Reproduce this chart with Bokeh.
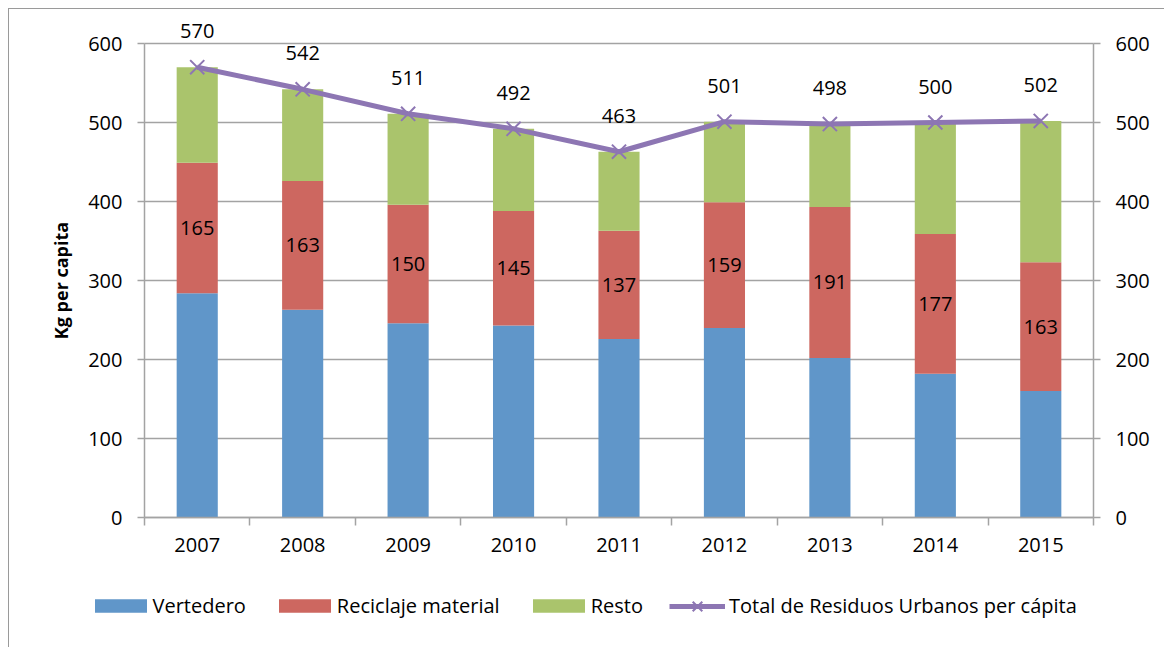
from bokeh.plotting import figure
from bokeh.models import (Range1d, LinearAxis, FixedTicker, ColumnDataSource,
                          Legend, LegendItem)
from bokeh.core.properties import value
from bokeh.embed import file_html
from bokeh.resources import INLINE

# ---- data ----
years = ["2007", "2008", "2009", "2010", "2011", "2012", "2013", "2014", "2015"]
vertedero = [284, 263, 246, 243, 226, 240, 202, 182, 160]
reciclaje = [165, 163, 150, 145, 137, 159, 191, 177, 163]
total = [570, 542, 511, 492, 463, 501, 498, 500, 502]
resto = [t - v - r for t, v, r in zip(total, vertedero, reciclaje)]
y_ticks = [0, 100, 200, 300, 400, 500, 600]

FONT = "Open Sans"
GRID = "#A3A3A3"
C_BLUE = "#6096C9"
C_RED = "#CD6760"
C_GREEN = "#AAC46C"
C_PURPLE = "#8D76B3"

n = len(years)
xs = [i + 0.5 for i in range(n)]
src = ColumnDataSource(dict(
    x=xs, year=years, vertedero=vertedero, reciclaje=reciclaje, resto=resto,
    total=total,
    rec_mid=[v + r / 2 for v, r in zip(vertedero, reciclaje)],
    rec_lbl=[str(r) for r in reciclaje],
    tot_lbl=[str(t) for t in total],
))

# The frame covers the whole canvas; axes are fixed at the data edges (0..9, 0..600)
W, H = 1156, 639
sx = 949 / n          # px per category
sy = 474 / 600        # px per kg
x0 = -135 / sx
x1 = x0 + W / sx
y1 = 508 / sy
y0 = y1 - H / sy

p = figure(width=W, height=H, output_backend="svg", toolbar_location=None,
           x_range=Range1d(x0, x1), y_range=Range1d(y0, y1),
           min_border=0, min_border_left=0, min_border_right=0,
           min_border_top=0, min_border_bottom=0,
           background_fill_color="white", border_fill_color="white",
           outline_line_color=None)
p.margin = (8, 0, 0, 8)
p.styles = {"border-left": "1px solid #9a9a9a", "border-top": "1px solid #9a9a9a"}
p.xgrid.visible = False
p.ygrid.visible = False

# horizontal gridlines between the two value axes
p.segment(x0=[0] * len(y_ticks), x1=[n] * len(y_ticks), y0=y_ticks, y1=y_ticks,
          line_color=GRID, line_width=1.5)

bars = p.vbar_stack(["vertedero", "reciclaje", "resto"], x="x", width=0.39,
                    source=src, color=[C_BLUE, C_RED, C_GREEN], line_color=None)
ln = p.line("x", "total", source=src, line_color=C_PURPLE, line_width=5)
mk = p.scatter("x", "total", source=src, marker="x", size=20,
               line_color=C_PURPLE, line_width=2)

p.text("x", "rec_mid", text="rec_lbl", source=src, text_font=value(FONT),
       text_font_size="20px", text_align="center", text_baseline="middle",
       text_color="black")
p.text("x", "total", text="tot_lbl", source=src, text_font=value(FONT),
       text_font_size="20px", text_align="center", text_baseline="middle",
       text_color="black", y_offset=-36)

# x axis: labels at centres, tick marks between categories
xa = p.xaxis[0]
xa.fixed_location = 0
xa.bounds = (0, n)
xa.ticker = FixedTicker(ticks=xs, minor_ticks=list(range(n + 1)))
xa.major_label_overrides = {x: y for x, y in zip(xs, years)}
xa.major_tick_out = 0
xa.major_tick_in = 0
xa.minor_tick_out = 8
xa.minor_tick_in = 0
xa.minor_tick_line_color = GRID
xa.minor_tick_line_width = 1.5
xa.axis_line_color = GRID
xa.axis_line_width = 1.5
xa.major_label_standoff = 12
xa.major_label_text_font = FONT
xa.major_label_text_font_size = "20px"
xa.major_label_text_color = "black"

# left y axis
ya = p.yaxis[0]
ya.fixed_location = 0
ya.axis_label = "Kg per capita"
ya.axis_label_text_font = FONT
ya.axis_label_text_font_size = "18px"
ya.axis_label_text_font_style = "bold"
ya.axis_label_text_color = "black"
ya.axis_label_standoff = 12

# right y axis
ra = LinearAxis(fixed_location=n)
p.add_layout(ra, "right")
for a in (ya, ra):
    a.ticker = FixedTicker(ticks=y_ticks)
    a.bounds = (0, 600)
    a.major_tick_out = 7
    a.major_tick_in = 0
    a.minor_tick_line_color = None
    a.major_tick_line_color = GRID
    a.major_tick_line_width = 1.5
    a.axis_line_color = GRID
    a.axis_line_width = 1.5
    a.major_label_standoff = 15
    a.major_label_text_font = FONT
    a.major_label_text_font_size = "20px"
    a.major_label_text_color = "black"

common = dict(orientation="horizontal", padding=0, margin=0,
              label_text_font=FONT, label_text_font_size="20px",
              label_text_color="black", border_line_color=None,
              background_fill_alpha=0)

legend_bars = Legend(items=[
    LegendItem(label="Vertedero", renderers=[bars[0]]),
    LegendItem(label="Reciclaje material", renderers=[bars[1]]),
    LegendItem(label="Resto", renderers=[bars[2]]),
], location=(78.5, 29.5), spacing=26, glyph_width=65, glyph_height=17,
    label_standoff=0, **common)
p.add_layout(legend_bars, "center")

legend_line = Legend(items=[
    LegendItem(label="Total de Residuos Urbanos per cápita", renderers=[ln, mk]),
], location=(660, 25.5), glyph_width=56, glyph_height=34,
    label_standoff=4, **common)
p.add_layout(legend_line, "center")

open("out.html", "w").write(file_html(p, INLINE))
